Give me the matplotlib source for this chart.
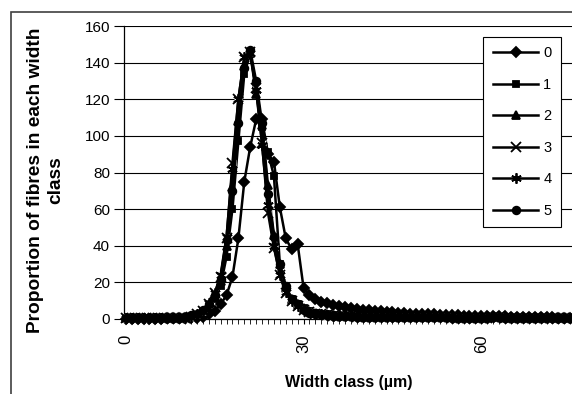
import matplotlib

matplotlib.use("Agg")

import matplotlib.pyplot as plt
from matplotlib.patches import Rectangle
from matplotlib.ticker import MultipleLocator

plt.rcParams["font.family"] = ["Liberation Sans", "DejaVu Sans"]

# width classes (µm), one per category
widths = list(range(76))

s0 = [0.2, 0.2, 0.2, 0.2, 0.2, 0.2, 0.2, 0.3, 0.3, 0.3,
      0.4, 0.5, 0.8, 1.2, 2.5, 4.5, 8, 13, 23, 44,
      75, 94, 109, 109, 90, 86, 61, 44, 38, 41,
      17, 13, 11, 9.5, 8.5, 7.5, 7, 6.5, 6, 5.5,
      5, 5, 4.5, 4.5, 4, 4, 3.5, 3.5, 3, 3,
      3, 2.8, 2.6, 2.4, 2.2, 2, 2, 1.8, 1.8, 1.6,
      1.6, 1.5, 1.5, 1.8, 1.4, 1.2, 1.2, 1.1, 1, 1,
      1, 0.9, 0.9, 0.8, 0.8, 0.8]
s1 = [0.3, 0.3, 0.3, 0.3, 0.3, 0.3, 0.3, 0.3, 0.4, 0.4,
      0.6, 1, 1.5, 3, 6, 11, 18, 34, 60, 97,
      134, 145, 127, 105, 91, 78, 30, 17, 11, 8,
      6, 4.5, 3.5, 3, 2.5, 2, 1.8, 1.6, 1.5, 1.4,
      1.3, 1.2, 1.2, 1.1, 1.1, 1, 1, 1, 1, 1,
      1, 0.9, 0.9, 0.9, 0.9, 0.9, 0.9, 0.8, 0.8, 0.8,
      0.8, 0.8, 0.9, 1.2, 0.8, 0.8, 0.8, 0.7, 0.7, 0.7,
      0.7, 0.7, 0.7, 0.7, 0.7, 0.7]
s2 = [0.3, 0.3, 0.3, 0.3, 0.3, 0.3, 0.3, 0.3, 0.4, 0.5,
      0.7, 1, 2, 3.5, 7, 12, 21, 40, 72, 108,
      138, 145, 123, 106, 73, 46, 30, 17, 11, 8,
      6, 4.5, 3.5, 3, 2.5, 2, 1.8, 1.6, 1.5, 1.4,
      1.3, 1.2, 1.2, 1.1, 1.1, 1, 1, 1, 1, 1,
      1, 0.9, 0.9, 0.9, 0.9, 0.9, 0.9, 0.8, 0.8, 0.8,
      0.8, 0.8, 0.9, 1.3, 0.8, 0.8, 0.8, 0.7, 0.7, 0.7,
      0.7, 0.7, 0.7, 0.7, 0.7, 0.7]
s3 = [0.3, 0.3, 0.3, 0.3, 0.3, 0.3, 0.3, 0.3, 0.4, 0.5,
      0.8, 1.2, 2.5, 4.5, 8, 14, 23, 44, 85, 120,
      143, 146, 126, 96, 58, 39, 24, 14, 10, 7,
      5, 4, 3, 2.5, 2, 1.8, 1.6, 1.5, 1.4, 1.3,
      1.2, 1.2, 1.1, 1.1, 1, 1, 1, 1, 1, 0.9,
      0.9, 0.9, 0.9, 0.9, 0.9, 0.8, 0.8, 0.8, 0.8, 0.8,
      0.8, 0.8, 0.9, 1.2, 0.8, 0.8, 0.7, 0.7, 0.7, 0.7,
      0.7, 0.7, 0.7, 0.7, 0.7, 0.7]
s4 = [0.3, 0.3, 0.3, 0.3, 0.3, 0.3, 0.3, 0.3, 0.4, 0.5,
      0.8, 1.3, 2.5, 4.5, 8.5, 14, 24, 45, 82, 120,
      143, 145, 125, 95, 62, 40, 24, 15, 10, 7,
      5, 4, 3, 2.5, 2, 1.8, 1.6, 1.5, 1.4, 1.3,
      1.2, 1.2, 1.1, 1.1, 1, 1, 1, 1, 1, 0.9,
      0.9, 0.9, 0.9, 0.9, 0.9, 0.8, 0.8, 0.8, 0.8, 0.8,
      0.8, 0.8, 0.9, 1.2, 0.8, 0.8, 0.7, 0.7, 0.7, 0.7,
      0.7, 0.7, 0.7, 0.7, 0.7, 0.7]
s5 = [0.3, 0.3, 0.3, 0.3, 0.3, 0.3, 0.3, 0.4, 0.5, 0.7,
      1.2, 2, 3, 5, 8, 13, 22, 43, 70, 107,
      137, 147, 130, 107, 68, 45, 30, 18, 11, 8,
      5, 3.5, 3, 2.5, 2, 1.8, 1.6, 1.5, 1.4, 1.3,
      1.2, 1.2, 1.1, 1.1, 1, 1, 1, 1, 1, 0.9,
      0.9, 0.9, 0.9, 0.9, 0.9, 0.8, 0.8, 0.8, 0.8, 0.8,
      0.8, 0.8, 0.9, 1.2, 0.8, 0.8, 0.7, 0.7, 0.7, 0.7,
      0.7, 0.7, 0.7, 0.7, 0.7, 0.7]

series = [s0, s1, s2, s3, s4, s5]
labels = ["0", "1", "2", "3", "4", "5"]
markers = ["D", "s", "^", "x", (6, 2, 0), "o"]
msizes = [5, 5, 5.5, 6.5, 7.5, 5.5]

W, H = 572, 394
fig = plt.figure(figsize=(W / 100, H / 100), dpi=100)
ax = fig.add_axes([124 / W, 75 / H, (W - 124) / W, 293 / H])

handles = []
for i, (vals, lab, mk, ms) in enumerate(zip(series, labels, markers, msizes)):
    if lab == "3":
        # Excel draws the cross marker on a white box
        ax.plot(widths, vals, ls="none", marker="s", ms=5.5, mfc="white",
                mec="none", zorder=3 + i, clip_on=False)
    (h,) = ax.plot(widths, vals, color="black", lw=1.8, marker=mk, ms=ms,
                   mfc="black", mec="black", mew=1.3, label=lab,
                   zorder=3 + i, clip_on=False)
    handles.append(h)

ax.set_xlim(-0.3, 75.3)
ax.set_ylim(0, 160)
ax.yaxis.set_major_locator(MultipleLocator(20))
ax.xaxis.set_major_locator(MultipleLocator(30))
ax.xaxis.set_minor_locator(MultipleLocator(1))
ax.grid(axis="y", color="black", lw=0.8, zorder=1)
for side in ("top", "right"):
    ax.spines[side].set_visible(False)
ax.spines["left"].set_linewidth(0.9)
ax.spines["bottom"].set_linewidth(0.9)
ax.tick_params(axis="y", direction="out", length=7, width=0.8, pad=3, labelsize=11)
ax.tick_params(axis="x", which="major", direction="out", length=3.5, width=0.8,
               pad=8, labelsize=12, labelrotation=90)
ax.tick_params(axis="x", which="minor", direction="out", length=3.5, width=0.6)

fig.text(46 / W, 1 - 180 / H, "Proportion of fibres in each width\nclass",
         rotation=90, ha="center", va="center", ma="center",
         fontsize=13.8, fontweight="bold", linespacing=1.25)
fig.text(349 / W, 1 - 382 / H, "Width class (µm)", ha="center", va="center",
         fontsize=11.5, fontweight="bold")

leg = fig.legend(handles=handles, loc="upper right",
                 bbox_to_anchor=(561 / W, 1 - 37 / H), fontsize=10.5,
                 frameon=True, fancybox=False, framealpha=1, edgecolor="black",
                 handlelength=3.1, handletextpad=0.35, labelspacing=1.2,
                 borderpad=0.65, borderaxespad=0)
leg.get_frame().set_linewidth(0.8)

# outer chart-area border (only top and left edges are visible in the crop)
fig.add_artist(Rectangle((11 / W, -0.1), 1.2, 1.1 - 12 / H, transform=fig.transFigure,
                         fill=False, edgecolor="#404040", lw=1.2))

fig.savefig("out.png", dpi=100)
plt.close(fig)
